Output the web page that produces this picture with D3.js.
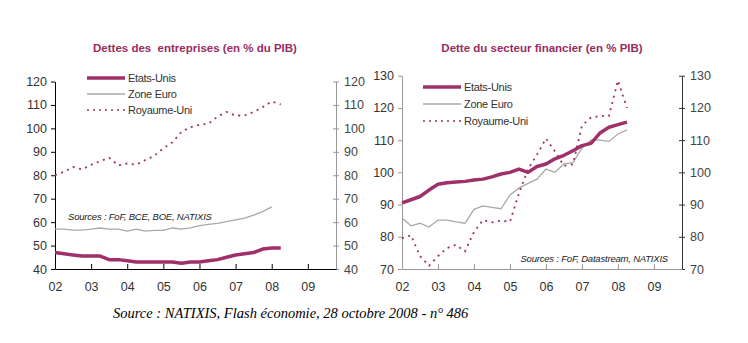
<!DOCTYPE html>
<html>
<head>
<meta charset="utf-8">
<script src="https://cdn.jsdelivr.net/npm/d3@7"></script>
<style>
  html, body { margin: 0; padding: 0; background: #fff; }
  svg { display: block; }
</style>
</head>
<body>
<svg id="chart" width="748" height="343"></svg>
<script>
// Quarterly observations, 2002 Q1 to 2008 Q2 (decimal years)
const quarters = d3.range(2002, 2008.26, 0.25);

// Corporate debt (% of GDP)
const corpUS   = [47, 46.5, 46, 45.5, 45.5, 45.5, 44, 44, 43.5, 43, 43, 43, 43, 43, 42.5, 43, 43, 43.5, 44, 45, 46, 46.5, 47, 48.5, 49, 49];
const corpEuro = [57, 57, 56.6, 56.6, 57, 57.5, 57, 57, 56.2, 57, 56.2, 56.5, 56.5, 57.5, 57, 57.5, 58.5, 59, 59.5, 60.2, 61, 61.7, 63, 64.5, 66.5];
const corpUK   = [80, 81.5, 83.5, 82.5, 84.5, 86, 87.5, 84.2, 85, 84.5, 86.5, 88.3, 91.5, 94, 98.5, 100.5, 101.5, 102, 105, 107, 105.5, 105.5, 107, 109, 111.5, 110.2];

// Financial-sector debt (% of GDP)
const finUS   = [90.5, 91.5, 92.5, 94.5, 96.3, 96.8, 97, 97.2, 97.6, 97.9, 98.6, 99.5, 100, 101, 100, 101.8, 102.6, 104.2, 105.3, 106.7, 108.3, 109, 112.2, 114, 114.8, 115.6];
const finEuro = [85.8, 83.4, 84.2, 83, 85.2, 85.2, 84.6, 84.2, 88.5, 89.6, 89.1, 88.7, 93, 95.1, 96.6, 97.9, 101, 100, 102.6, 103, 107.5, 110, 110, 109.6, 111.9, 113.2];
const finUK   = [79.5, 80.5, 74, 71, 74, 76.5, 77.5, 75.5, 81.5, 85.2, 84.5, 85, 84.7, 93.5, 101, 105.5, 110.5, 106.5, 102, 102.5, 114.5, 117, 117.5, 117.5, 128.5, 120];

const yearTicks = [2002, 2003, 2004, 2005, 2006, 2007, 2008, 2009];
const yearLabels = ["02", "03", "04", "05", "06", "07", "08", "09"];
const corpTicks = [40, 50, 60, 70, 80, 90, 100, 110, 120];
const finTicks = [70, 80, 90, 100, 110, 120, 130];
const seriesNames = ["Etats-Unis", "Zone Euro", "Royaume-Uni"];

const MAGENTA = "#a0306a";
const GREY = "#a8a8a8";
const TITLE = "#9a2c61";

const svg = d3.select("#chart");

function panel(cfg) {
  const g = svg.append("g");
  const x = d3.scaleLinear().domain([2002, 2009.78]).range([cfg.x0, cfg.x1]);
  const y = d3.scaleLinear().domain(cfg.yDomain).range([cfg.y0, cfg.y1]);

  // title
  g.append("text")
    .attr("x", cfg.titleX).attr("y", 52)
    .attr("text-anchor", "middle")
    .attr("font-family", "Liberation Sans, Arial, sans-serif")
    .attr("font-size", 11.5).attr("font-weight", "bold")
    .attr("fill", TITLE)
    .attr("xml:space", "preserve")
    .text(cfg.title);

  // left axis
  const left = g.append("g").attr("transform", `translate(${cfg.x0},0)`)
    .call(d3.axisLeft(y).tickValues(cfg.ticks).tickSize(4).tickSizeOuter(0).tickPadding(4));
  left.select(".domain").attr("stroke", cfg.leftColor);
  left.selectAll(".tick line").attr("stroke", cfg.leftColor);
  left.selectAll(".tick text").attr("font-family", "Liberation Sans, Arial, sans-serif")
    .attr("font-size", 12.5).attr("fill", "#333");

  // right axis
  const right = g.append("g").attr("transform", `translate(${cfg.x1},0)`)
    .call(d3.axisRight(y).tickValues(cfg.ticks).tickSize(3).tickSizeOuter(0).tickPadding(5));
  right.select(".domain").attr("stroke", cfg.rightColor);
  right.selectAll(".tick line").attr("stroke", cfg.rightColor).attr("x1", -3);
  right.selectAll(".tick text").attr("font-family", "Liberation Sans, Arial, sans-serif")
    .attr("font-size", 12.5).attr("fill", "#444");

  // bottom axis, ticks pointing up
  const bottom = g.append("g").attr("transform", `translate(0,${cfg.y0})`)
    .call(d3.axisBottom(x).tickValues(yearTicks).tickFormat((d, i) => yearLabels[i]).tickSize(0).tickPadding(13));
  bottom.select(".domain").attr("stroke", cfg.bottomColor);
  bottom.selectAll(".tick line").attr("y2", -5).attr("stroke", cfg.bottomColor);
  bottom.selectAll(".tick text").attr("font-family", "Liberation Sans, Arial, sans-serif")
    .attr("font-size", 12.5).attr("fill", "#333");

  const line = d3.line().x((d, i) => x(quarters[i])).y(d => y(d)).curve(d3.curveLinear);

  g.append("path").datum(cfg.euro).attr("d", line)
    .attr("fill", "none").attr("stroke", GREY).attr("stroke-width", 1.3);
  g.append("path").datum(cfg.uk).attr("d", line)
    .attr("fill", "none").attr("stroke", MAGENTA).attr("stroke-width", 1.8)
    .attr("stroke-dasharray", "2,4.5");
  g.append("path").datum(cfg.us).attr("d", line)
    .attr("fill", "none").attr("stroke", MAGENTA).attr("stroke-width", 3.5)
    .attr("stroke-linejoin", "round");

  // legend
  const styles = [
    { stroke: MAGENTA, width: 3.5, dash: null },
    { stroke: GREY, width: 1.3, dash: null },
    { stroke: MAGENTA, width: 1.6, dash: "2,4" }
  ];
  seriesNames.forEach((name, i) => {
    const ly = cfg.legendY + i * cfg.legendStep;
    g.append("line").attr("x1", cfg.legendX).attr("x2", cfg.legendX + 38)
      .attr("y1", ly).attr("y2", ly)
      .attr("stroke", styles[i].stroke).attr("stroke-width", styles[i].width)
      .attr("stroke-dasharray", styles[i].dash);
    g.append("text").attr("x", cfg.legendX + 41).attr("y", ly + 4)
      .attr("font-family", "Liberation Sans, Arial, sans-serif")
      .attr("font-size", 11).attr("fill", "#333")
      .attr("letter-spacing", -0.3)
      .text(name);
  });

  // sources note
  g.append("text").attr("x", cfg.srcX).attr("y", cfg.srcY)
    .attr("text-anchor", cfg.srcAnchor)
    .attr("font-family", "Liberation Sans, Arial, sans-serif")
    .attr("font-size", 9.5).attr("font-style", "italic").attr("fill", "#222")
    .attr("letter-spacing", -0.2)
    .text(cfg.src);
}

panel({
  title: "Dettes des  entreprises (en % du PIB)", titleX: 195,
  x0: 55, x1: 336, y0: 269, y1: 81.5, yDomain: [40, 120], ticks: corpTicks,
  leftColor: "#000", rightColor: "#999", bottomColor: "#000",
  us: corpUS, euro: corpEuro, uk: corpUK,
  legendX: 87, legendY: 78, legendStep: 16,
  src: "Sources : FoF, BCE, BOE, NATIXIS", srcX: 68, srcY: 220, srcAnchor: "start"
});

panel({
  title: "Dette du secteur financier (en % PIB)", titleX: 542,
  x0: 402, x1: 682, y0: 269, y1: 75.7, yDomain: [70, 130], ticks: finTicks,
  leftColor: "#999", rightColor: "#333", bottomColor: "#999",
  us: finUS, euro: finEuro, uk: finUK,
  legendX: 423, legendY: 87, legendStep: 17,
  src: "Sources : FoF, Datastream, NATIXIS", srcX: 668, srcY: 262, srcAnchor: "end"
});

// publication reference
svg.append("text").attr("x", 113).attr("y", 318)
  .attr("font-family", "Liberation Serif, Times New Roman, serif")
  .attr("font-size", 14.5).attr("font-style", "italic").attr("fill", "#000")
  .text("Source : NATIXIS, Flash économie, 28 octobre 2008 - n° 486");
</script>
</body>
</html>
